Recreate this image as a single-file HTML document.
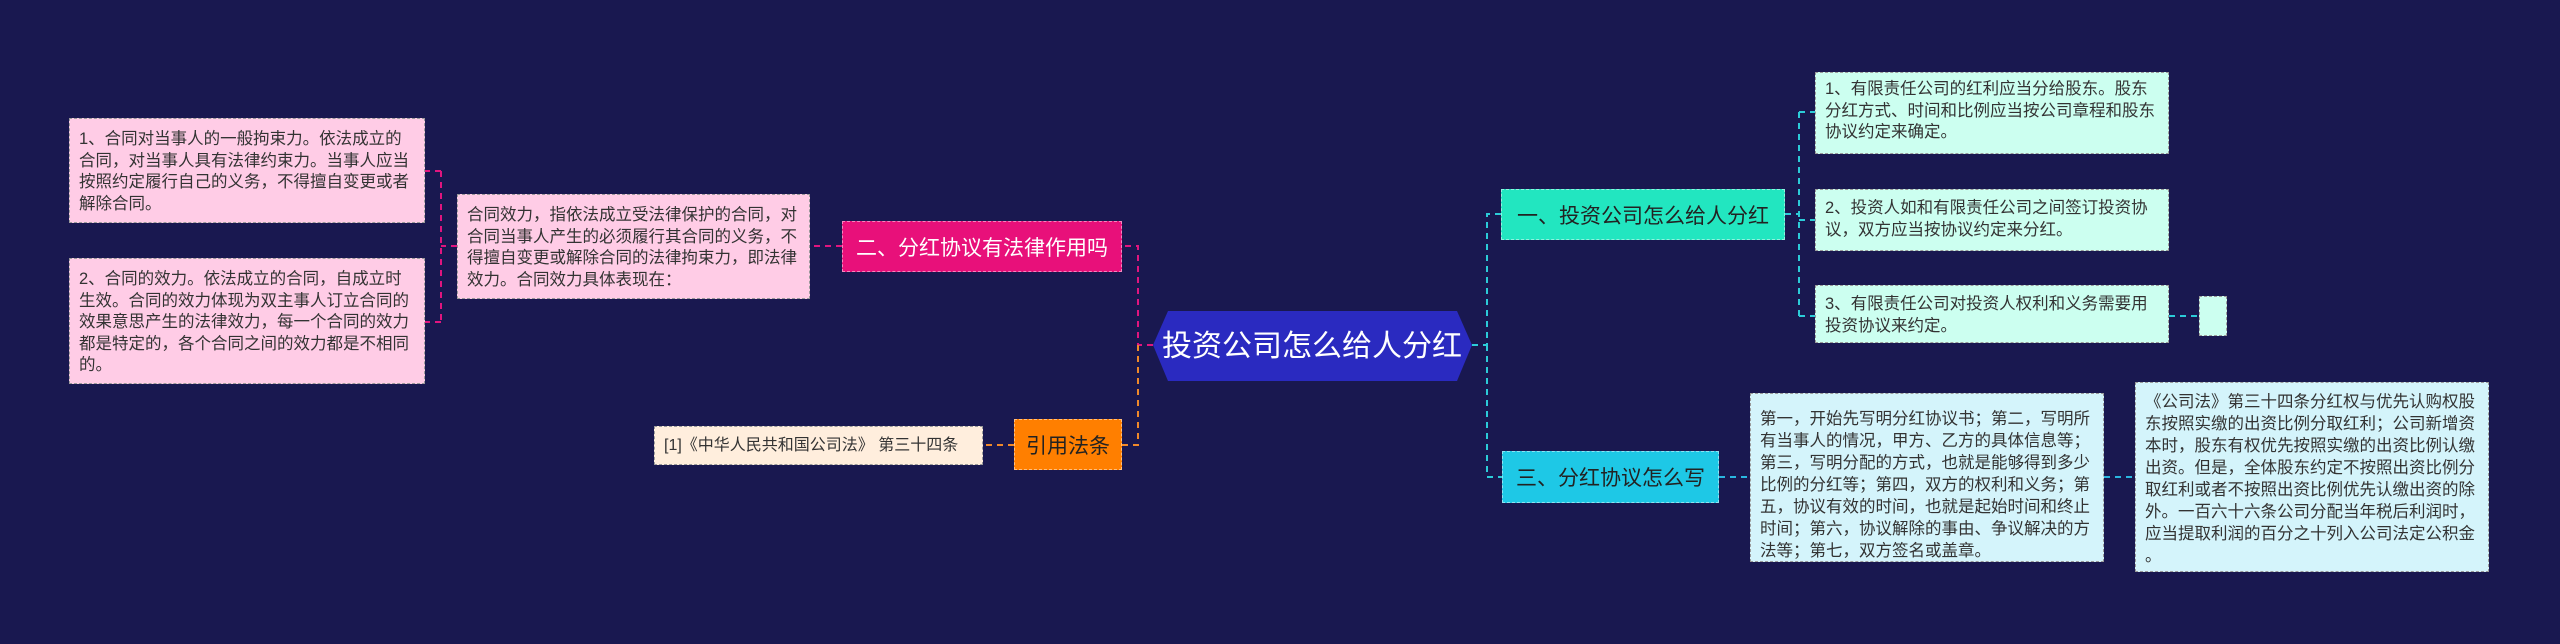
<!DOCTYPE html>
<html><head><meta charset="utf-8"><style>
body{margin:0;width:2560px;height:644px;background:#191850;position:relative;overflow:hidden;font-family:"Liberation Sans","Noto Sans CJK SC",sans-serif}
.b{position:absolute;box-sizing:border-box;border:1.5px dashed #9a9a9a;color:#333;font-size:16.5px;line-height:21.5px;padding:6px 8px 6px 9px}
.n{position:absolute;box-sizing:border-box;display:flex;align-items:center;justify-content:center;font-size:21px;border:1.5px dashed rgba(255,255,255,.5)}
svg{position:absolute;left:0;top:0}
</style></head><body>
<svg width="2560" height="644">
<g fill="none" stroke-width="2" stroke-dasharray="6,5">
<path d="M1153 345H1138V246H1122M842 246H810M457 246H441M441 171H425M441 322H425M441 171V322" stroke="#e0157f"/>
<path d="M1138 345V445H1122M1014 445H983" stroke="#f0892a"/>
<path d="M1472 345H1487V214H1501M1487 345V477H1502M1785 214H1799M1799 112V316M1799 112H1815M1799 220H1815M1799 316H1815M2169 316H2199" stroke="#2ccbd8"/>
<path d="M1719 477H1750M2104 477H2135" stroke="#2ab6e0"/>
</g>
<polygon points="1168,311 1457,311 1472,345 1457,381 1168,381 1153,345" fill="#2a2ac0"/>
<text x="1312" y="356" fill="#fff" font-size="30" text-anchor="middle" font-family="Liberation Sans,Noto Sans CJK SC,sans-serif">投资公司怎么给人分红</text>
</svg>
<div class="n" style="left:1501px;top:189px;width:284px;height:51px;background:#22e6c0;color:#222">一、投资公司怎么给人分红</div>
<div class="b" style="left:1815px;top:72px;width:354px;height:82px;background:#ccfff0">1、有限责任公司的红利应当分给股东。股东分红方式、时间和比例应当按公司章程和股东协议约定来确定。</div>
<div class="b" style="left:1815px;top:189px;width:354px;height:62px;background:#ccfff0;padding-top:8px">2、投资人如和有限责任公司之间签订投资协议，双方应当按协议约定来分红。</div>
<div class="b" style="left:1815px;top:285px;width:354px;height:58px;background:#ccfff0;padding-top:8px">3、有限责任公司对投资人权利和义务需要用投资协议来约定。</div>
<div class="b" style="left:2199px;top:296px;width:28px;height:40px;background:#ccfff0"></div>
<div class="n" style="left:1502px;top:451px;width:217px;height:52px;background:#1ec8e6;color:#222">三、分红协议怎么写</div>
<div class="b" style="left:1750px;top:393px;width:354px;height:169px;background:#d4f4fb;padding-top:14px;line-height:22px">第一，开始先写明分红协议书；第二，写明所有当事人的情况，甲方、乙方的具体信息等；第三，写明分配的方式，也就是能够得到多少比例的分红等；第四，双方的权利和义务；第五，协议有效的时间，也就是起始时间和终止时间；第六，协议解除的事由、争议解决的方法等；第七，双方签名或盖章。</div>
<div class="b" style="left:2135px;top:382px;width:354px;height:190px;background:#d4f4fb;padding:8px 4px 6px 9px;line-height:22px;line-break:anywhere">《公司法》第三十四条分红权与优先认购权股东按照实缴的出资比例分取红利；公司新增资本时，股东有权优先按照实缴的出资比例认缴出资。但是，全体股东约定不按照出资比例分取红利或者不按照出资比例优先认缴出资的除外。一百六十六条公司分配当年税后利润时，应当提取利润的百分之十列入公司法定公积金。</div>
<div class="n" style="left:842px;top:221px;width:280px;height:51px;background:#e8107a;color:#fff">二、分红协议有法律作用吗</div>
<div class="b" style="left:457px;top:194px;width:353px;height:105px;background:#ffcce6;padding-top:10px">合同效力，指依法成立受法律保护的合同，对合同当事人产生的必须履行其合同的义务，不得擅自变更或解除合同的法律拘束力，即法律效力。合同效力具体表现在：</div>
<div class="b" style="left:69px;top:118px;width:356px;height:105px;background:#ffcce6;padding-top:10px">1、合同对当事人的一般拘束力。依法成立的合同，对当事人具有法律约束力。当事人应当按照约定履行自己的义务，不得擅自变更或者解除合同。</div>
<div class="b" style="left:69px;top:258px;width:356px;height:126px;background:#ffcce6;padding-top:10px">2、合同的效力。依法成立的合同，自成立时生效。合同的效力体现为双主事人订立合同的效果意思产生的法律效力，每一个合同的效力都是特定的，各个合同之间的效力都是不相同的。</div>
<div class="n" style="left:1014px;top:419px;width:108px;height:51px;background:#ff7f00;color:#222">引用法条</div>
<div class="b" style="left:654px;top:426px;width:329px;height:39px;background:#ffeedd;padding-top:8px;white-space:nowrap;font-size:16px">[1]《中华人民共和国公司法》 第三十四条</div>
</body></html>
